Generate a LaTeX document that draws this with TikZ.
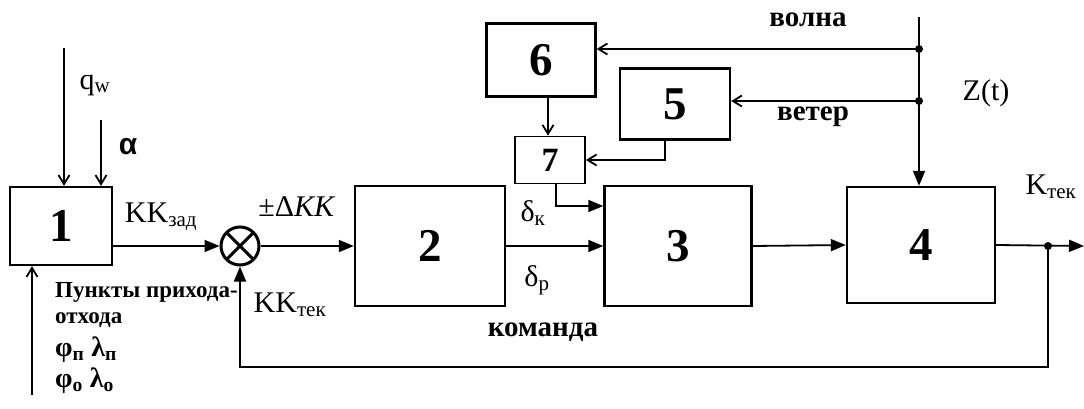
\documentclass[tikz,border=0pt]{standalone}
\usepackage{fontspec}
\setmainfont{Liberation Serif}[BoldFont={Liberation Serif Bold}, ItalicFont={Liberation Serif Italic}]
\newfontfamily\sansgr{Liberation Sans}
\usetikzlibrary{arrows.meta}

\begin{document}
\begin{tikzpicture}[x=1pt, y=-1pt,
    block/.style={draw, line width=2.4pt, inner sep=0pt, font=\fontsize{47}{47}\selectfont\bfseries},
    sumnode/.style={circle, draw, line width=3pt, minimum size=38pt, inner sep=0pt,
      path picture={\draw[line width=3pt] (path picture bounding box.north east) -- (path picture bounding box.south west)
        (path picture bounding box.north west) -- (path picture bounding box.south east);}},
    lab/.style={font=\fontsize{30}{30}\selectfont, inner sep=0pt},
    blab/.style={font=\fontsize{29}{29}\selectfont\bfseries, inner sep=0pt},
    slab/.style={font=\fontsize{23}{23}\selectfont\bfseries, inner sep=0pt, anchor=west},
    wire/.style={line width=1.8pt},
    sig/.style={wire, -{Triangle[length=15pt,width=12pt]}},
    thinsig/.style={wire, -{Straight Barb[length=9pt,width=11pt]}},
    dot/.style={circle, fill, inner sep=0pt, minimum size=8pt}]
  \useasboundingbox (0,0) rectangle (1084,409);
  % Define nodes
  \node[block, minimum width=102pt, minimum height=78pt] (b1) at (61,226) {1};
  \node[block, minimum width=150pt, minimum height=120pt] (b2) at (430,246) {2};
  \node[block, minimum width=147pt, minimum height=120pt] (b3) at (678,246) {3};
  \node[block, minimum width=148pt, minimum height=116pt] (b4) at (921,245) {4};
  \node[block, minimum width=110pt, minimum height=71pt] (b5) at (675,104) {5};
  \node[block, minimum width=109pt, minimum height=73pt] (b6) at (541,60) {6};
  \node[block, line width=1.8pt, minimum width=70pt, minimum height=47pt,
    font=\fontsize{34}{34}\selectfont\bfseries] (b7) at (550,160) {7};
  \node[sumnode] (s) at (240,246) {};
  \node[dot] (j) at (1048,246) {};
  \node[dot] (w) at (919,49) {};
  \node[dot] (v) at (919,101) {};
  \coordinate (qw) at (64,48);
  \coordinate (al) at (101,120);
  \coordinate (pp) at (32,395);
  \coordinate (out) at (1084,246);
  \coordinate (fb) at (1048,367);
  \coordinate (ztop) at (919,17);
  % Connect nodes
  \draw[thinsig] (qw) -- (qw |- b1.north);
  \draw[thinsig] (al) -- (al |- b1.north);
  \draw[thinsig] (pp) -- (pp |- b1.south);
  \draw[sig] (b1.east |- s) -- (s.west);
  \draw[sig] (s.east) -- (b2.west);
  \draw[sig] (b2.east) -- (b3.west);
  \draw[sig] (b3.east) -- (b4.west);
  \draw[sig] (b4.east) -- (out);
  \draw[sig] (j.center) -- (fb) -| (s.south);
  \draw[sig] (ztop) -- (ztop |- b4.north);
  \draw[thinsig] (w.center) -- (w -| b6.east);
  \draw[thinsig] (v.center) -- (v -| b5.east);
  \draw[thinsig] ([xshift=-10pt]b5.south) |- (b7.east);
  \draw[thinsig] ([xshift=-2pt]b7.north |- b6.south) -- ([xshift=-2pt]b7.north);
  \draw[sig] ([xshift=6pt]b7.south) |- ([yshift=40pt]b3.west);
  % Labels
  \node[lab] at (95,85) {q\textsubscript{w}};
  \node[lab, font=\fontsize{30}{30}\selectfont\sansgr\bfseries] at (128,147) {α};
  \node[lab] at (161,217) {KK\textsubscript{зад}};
  \node[lab] at (297,207) {±Δ\textit{KK}};
  \node[lab] at (290,305) {KK\textsubscript{тек}};
  \node[slab] at (55,292) {Пункты прихода-};
  \node[slab] at (55,320) {отхода};
  \node[slab, font=\fontsize{28}{28}\selectfont\bfseries] at (55,350) {φ\textsubscript{п} λ\textsubscript{п}};
  \node[slab, font=\fontsize{28}{28}\selectfont\bfseries] at (55,381) {φ\textsubscript{о} λ\textsubscript{о}};
  \node[lab] at (533,213) {δ\textsubscript{к}};
  \node[lab] at (537,280) {δ\textsubscript{р}};
  \node[blab] at (543,332) {команда};
  \node[blab] at (808,20) {волна};
  \node[blab] at (813,117) {ветер};
  \node[lab] at (986,93) {Z(t)};
  \node[lab] at (1051,187) {K\textsubscript{тек}};
\end{tikzpicture}
\end{document}
